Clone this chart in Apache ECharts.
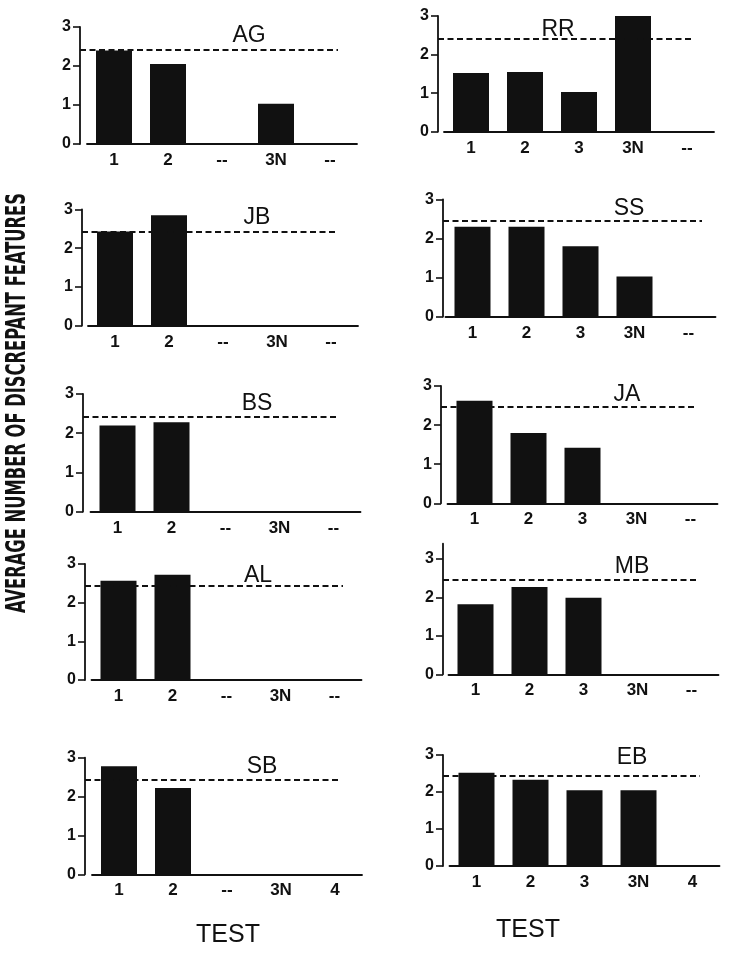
<!DOCTYPE html>
<html>
<head>
<meta charset="utf-8">
<script src="https://cdn.jsdelivr.net/npm/echarts@6/dist/echarts.min.js"></script>
<style>
html,body{margin:0;padding:0;background:#fff;}
#chart{width:755px;height:958px;}
</style>
</head>
<body>
<div id="chart"></div>
<script>
// ---------- DATA ----------
const panelNames = ['AG', 'JB', 'BS', 'AL', 'SB', 'RR', 'SS', 'JA', 'MB', 'EB'];

const categoriesAG = ['1', '2', '--', '3N', '--'];
const categoriesJB = ['1', '2', '--', '3N', '--'];
const categoriesBS = ['1', '2', '--', '3N', '--'];
const categoriesAL = ['1', '2', '--', '3N', '--'];
const categoriesSB = ['1', '2', '--', '3N', '4'];
const categoriesRR = ['1', '2', '3', '3N', '--'];
const categoriesSS = ['1', '2', '3', '3N', '--'];
const categoriesJA = ['1', '2', '3', '3N', '--'];
const categoriesMB = ['1', '2', '3', '3N', '--'];
const categoriesEB = ['1', '2', '3', '3N', '4'];

const valuesAG = [2.4, 2.05, null, 1.03, null];
const valuesJB = [2.43, 2.85, null, null, null];
const valuesBS = [2.2, 2.28, null, null, null];
const valuesAL = [2.57, 2.72, null, null, null];
const valuesSB = [2.78, 2.22, null, null, null];
const valuesRR = [1.52, 1.55, 1.03, 3.0, null];
const valuesSS = [2.3, 2.3, 1.8, 1.03, null];
const valuesJA = [2.62, 1.8, 1.42, null, null];
const valuesMB = [1.82, 2.27, 1.99, null, null];
const valuesEB = [2.52, 2.33, 2.05, 2.05, null];

const thresholds = [2.41, 2.42, 2.43, 2.45, 2.42, 2.42, 2.45, 2.48, 2.45, 2.44];

const yTickValues = [0, 1, 2, 3];
const yAxisLabel = 'AVERAGE NUMBER OF DISCREPANT FEATURES';
const xAxisLabel = 'TEST';

// ---------- LAYOUT (pixels) ----------
const categoriesAll = [categoriesAG, categoriesJB, categoriesBS, categoriesAL, categoriesSB,
                       categoriesRR, categoriesSS, categoriesJA, categoriesMB, categoriesEB];
const valuesAll = [valuesAG, valuesJB, valuesBS, valuesAL, valuesSB,
                   valuesRR, valuesSS, valuesJA, valuesMB, valuesEB];

// axisX: y axis line x; left: grid left; y3: pixel of value 3; y0: pixel of value 0
const layout = [
  {axisX: 80,  left: 87,    y3: 27,    y0: 144,   dashEnd: 338, tx: 244, ty: 31,  max: 3},
  {axisX: 82,  left: 88,    y3: 209.5, y0: 325.7, dashEnd: 338, tx: 252, ty: 213, max: 3},
  {axisX: 83,  left: 90.5,  y3: 394,   y0: 511.7, dashEnd: 338, tx: 252, ty: 399, max: 3},
  {axisX: 85,  left: 91.5,  y3: 564,   y0: 680,   dashEnd: 343, tx: 253, ty: 571, max: 3},
  {axisX: 85,  left: 92,    y3: 757.7, y0: 874.3, dashEnd: 340, tx: 257, ty: 762, max: 3},
  {axisX: 438, left: 444,   y3: 16,    y0: 131.7, dashEnd: 694, tx: 553, ty: 25,  max: 3},
  {axisX: 443, left: 445.5, y3: 199.3, y0: 316.7, dashEnd: 702, tx: 624, ty: 204, max: 3},
  {axisX: 441, left: 447.5, y3: 386,   y0: 503.3, dashEnd: 697, tx: 622, ty: 390, max: 3},
  {axisX: 443, left: 448.5, y3: 559,   y0: 674.3, dashEnd: 697, tx: 627, ty: 562, max: 3.4},
  {axisX: 443, left: 449.5, y3: 755,   y0: 866,   dashEnd: 700, tx: 627, ty: 753, max: 3}
];
const bandWidth = 54;
const FONT = '"Liberation Sans", Arial, sans-serif';
const INK = '#111';

const chart = echarts.init(document.getElementById('chart'), null, {renderer: 'canvas'});

const grids = [], xAxes = [], yAxes = [], series = [], titles = [];
panelNames.forEach((name, i) => {
  const L = layout[i];
  const unit = (L.y0 - L.y3) / 3;
  const top = L.y0 - unit * L.max;
  grids.push({left: L.left, top: top, width: bandWidth * 5, height: L.y0 - top, containLabel: false});
  xAxes.push({
    type: 'category', gridIndex: i, data: categoriesAll[i],
    axisLine: {show: true, lineStyle: {color: INK, width: 1.8}},
    axisTick: {show: false},
    axisLabel: {color: INK, fontFamily: FONT, fontSize: 17, fontWeight: 'bold', margin: 8, interval: 0}
  });
  yAxes.push({
    type: 'value', gridIndex: i, min: 0, max: L.max, interval: 1,
    offset: L.left - L.axisX,
    splitLine: {show: false},
    axisLine: {show: true, lineStyle: {color: INK, width: 1.8}},
    axisTick: {show: true, length: 7, lineStyle: {color: INK, width: 1.6}, customValues: yTickValues},
    axisLabel: {color: INK, fontFamily: FONT, fontSize: 16, fontWeight: 'bold', margin: 9, customValues: yTickValues}
  });
  series.push({
    type: 'line', xAxisIndex: i, yAxisIndex: i, data: [], z: 1, silent: true,
    markLine: {
      silent: true, symbol: ['none', 'none'], label: {show: false},
      lineStyle: {color: INK, type: [6, 3.5], width: 1.8},
      data: [[{x: L.axisX, yAxis: thresholds[i]}, {x: L.dashEnd, yAxis: thresholds[i]}]]
    }
  });
  series.push({
    type: 'bar', xAxisIndex: i, yAxisIndex: i, data: valuesAll[i], z: 3,
    barWidth: 36, itemStyle: {color: INK}, silent: true
  });
  titles.push({
    text: name, left: L.tx, top: L.ty, textAlign: 'center', textVerticalAlign: 'middle',
    textStyle: {fontFamily: FONT, fontSize: 23, fontWeight: 'normal', color: INK}
  });
});

// measure to fit the rotated y label into its span
const ctx = document.createElement('canvas').getContext('2d');
const yFont = 'bold 26px "DejaVu Sans Condensed"';
ctx.font = yFont;
const yLabelWidth = ctx.measureText(yAxisLabel).width;
const yScale = 420 / yLabelWidth;

chart.setOption({
  backgroundColor: '#fff',
  animation: false,
  title: titles,
  grid: grids,
  xAxis: xAxes,
  yAxis: yAxes,
  series: series,
  graphic: [
    {type: 'text', x: 18, y: 403, rotation: Math.PI / 2, scaleX: yScale, scaleY: 1.0,
     style: {text: yAxisLabel, font: yFont, fill: INK, textAlign: 'center', textVerticalAlign: 'middle'}},
    {type: 'text', x: 228, y: 935,
     style: {text: xAxisLabel, font: '25px ' + FONT, fill: INK, textAlign: 'center', textVerticalAlign: 'middle'}},
    {type: 'text', x: 528, y: 930,
     style: {text: xAxisLabel, font: '25px ' + FONT, fill: INK, textAlign: 'center', textVerticalAlign: 'middle'}}
  ]
});
</script>
</body>
</html>
